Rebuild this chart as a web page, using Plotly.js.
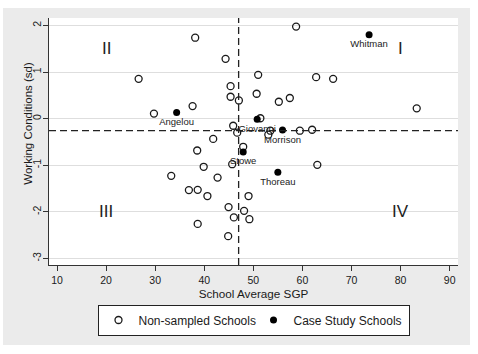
<!DOCTYPE html>
<html>
<head>
<meta charset="utf-8">
<script src="https://cdn.plot.ly/plotly-3.0.1.min.js"></script>
<style>
  html, body { margin: 0; padding: 0; background: #ffffff; width: 478px; height: 354px; overflow: hidden; }
  #chart { position: absolute; left: 3px; top: 8px; width: 467px; height: 337px; }
</style>
</head>
<body>
<div id="chart"></div>
<script>
// Non-sampled schools: School Average SGP (x) and Working Conditions sd (y)
const nonSampledSGP = [38.15, 44.34, 50.98, 26.63, 45.36, 45.36, 47.05, 50.67, 37.62, 29.75,
  45.89, 46.71, 41.82, 38.56, 47.93, 58.71, 62.79, 66.25, 55.19, 57.43,
  83.28, 51.43, 53.46, 53.05, 59.47, 61.97, 45.69, 39.88, 63.03, 42.71,
  33.27, 36.87, 38.66, 40.64, 49.02, 44.95, 48.11, 46.03, 49.19, 38.66, 44.87];
const nonSampledWC = [1.736, 1.283, 0.939, 0.854, 0.696, 0.469, 0.389, 0.533, 0.268, 0.108,
  -0.154, -0.302, -0.436, -0.685, -0.605, 1.975, 0.890, 0.854, 0.362, 0.442,
  0.220, 0.008, -0.260, -0.345, -0.260, -0.239, -0.979, -1.034, -0.992, -1.266,
  -1.228, -1.535, -1.529, -1.662, -1.662, -1.899, -1.980, -2.121, -2.159, -2.260, -2.523];

// Case study schools
const caseNames = ["Whitman", "Angelou", "Giovanni", "Morrison", "Stowe", "Thoreau"];
const caseSGP = [73.58, 34.37, 50.78, 55.94, 47.93, 54.99];
const caseWC = [1.799, 0.129, -0.015, -0.245, -0.715, -1.154];

// Reference (mean) lines
const refSGP = 47.0;
const refWC = -0.26;

// Quadrant labels
const quadLabels = ["I", "II", "III", "IV"];
const quadSGP = [80, 20, 20, 80];
const quadWC = [1.5, 1.5, -2, -2];

// Axis ticks and titles
const xTicks = [10, 20, 30, 40, 50, 60, 70, 80, 90];
const yTicks = [-3, -2, -1, 0, 1, 2];
const xTitle = "School Average SGP";
const yTitle = "Working Conditions (sd)";

const FONT = "Liberation Sans, Arial, Helvetica, sans-serif";
const INK = "#1a1a1a";

const traces = [
  {
    type: "scatter", mode: "markers", name: "Non-sampled Schools",
    x: nonSampledSGP, y: nonSampledWC,
    marker: { symbol: "circle-open", size: 7, color: INK, line: { width: 1.3, color: INK } },
    hoverinfo: "x+y"
  },
  {
    type: "scatter", mode: "markers+text", name: "Case Study Schools",
    x: caseSGP, y: caseWC, text: caseNames, textposition: "bottom center",
    textfont: { family: FONT, size: 9.5, color: "#222222" },
    marker: { symbol: "circle", size: 7, color: "#000" },
    hoverinfo: "x+y+text"
  }
];

const annotations = quadLabels.map((t, i) => ({
  x: quadSGP[i], y: quadWC[i], xref: "x", yref: "y", text: t, showarrow: false,
  font: { family: FONT, size: 17, color: "#222" }
}));
annotations.push({
  xref: "paper", yref: "paper", x: -0.052, y: 0.575, xanchor: "center", yanchor: "middle",
  text: yTitle, textangle: -90, showarrow: false,
  font: { family: FONT, size: 11.5, color: INK }
});

const shapes = [
  { type: "line", xref: "x", yref: "paper", x0: refSGP, x1: refSGP, y0: 0, y1: 1,
    line: { color: "#222", width: 1.3, dash: "7px,4px" } },
  { type: "line", xref: "paper", yref: "y", x0: 0, x1: 1, y0: refWC, y1: refWC,
    line: { color: "#222", width: 1.3, dash: "7px,4px" } }
];

const layout = {
  width: 467, height: 337,
  margin: { l: 46, r: 12, t: 10, b: 76, pad: 0 },
  paper_bgcolor: "#ebebeb",
  plot_bgcolor: "#ffffff",
  font: { family: FONT, color: INK },
  showlegend: true,
  legend: {
    orientation: "h", x: 0.5, xanchor: "center", y: -0.16, yanchor: "top",
    bgcolor: "#ffffff", bordercolor: "#222", borderwidth: 1,
    font: { family: FONT, size: 12, color: INK },
    itemwidth: 30, entrywidth: 110, entrywidthmode: "pixels"
  },
  xaxis: {
    range: [8.37, 91.69], tickvals: xTicks, ticktext: xTicks.map(String),
    showgrid: false, zeroline: false,
    showline: true, linecolor: "#333", linewidth: 1,
    ticks: "outside", ticklen: 5, tickcolor: "#333", tickwidth: 1,
    tickfont: { family: FONT, size: 10.5, color: INK },
    title: { text: xTitle, font: { family: FONT, size: 11.7, color: INK }, standoff: 5 }
  },
  yaxis: {
    range: [-3.142, 2.159], tickvals: yTicks, ticktext: yTicks.map(String),
    showgrid: true, gridcolor: "#dedede", gridwidth: 1, zeroline: false,
    showline: true, linecolor: "#333", linewidth: 1,
    ticks: "outside", ticklen: 5, tickcolor: "#333", tickwidth: 1,
    tickangle: -90, ticklabelstandoff: -2,
    tickfont: { family: FONT, size: 10.5, color: INK }
  },
  shapes: shapes,
  annotations: annotations
};

Plotly.newPlot("chart", traces, layout, { displayModeBar: false, staticPlot: true });
</script>
</body>
</html>
